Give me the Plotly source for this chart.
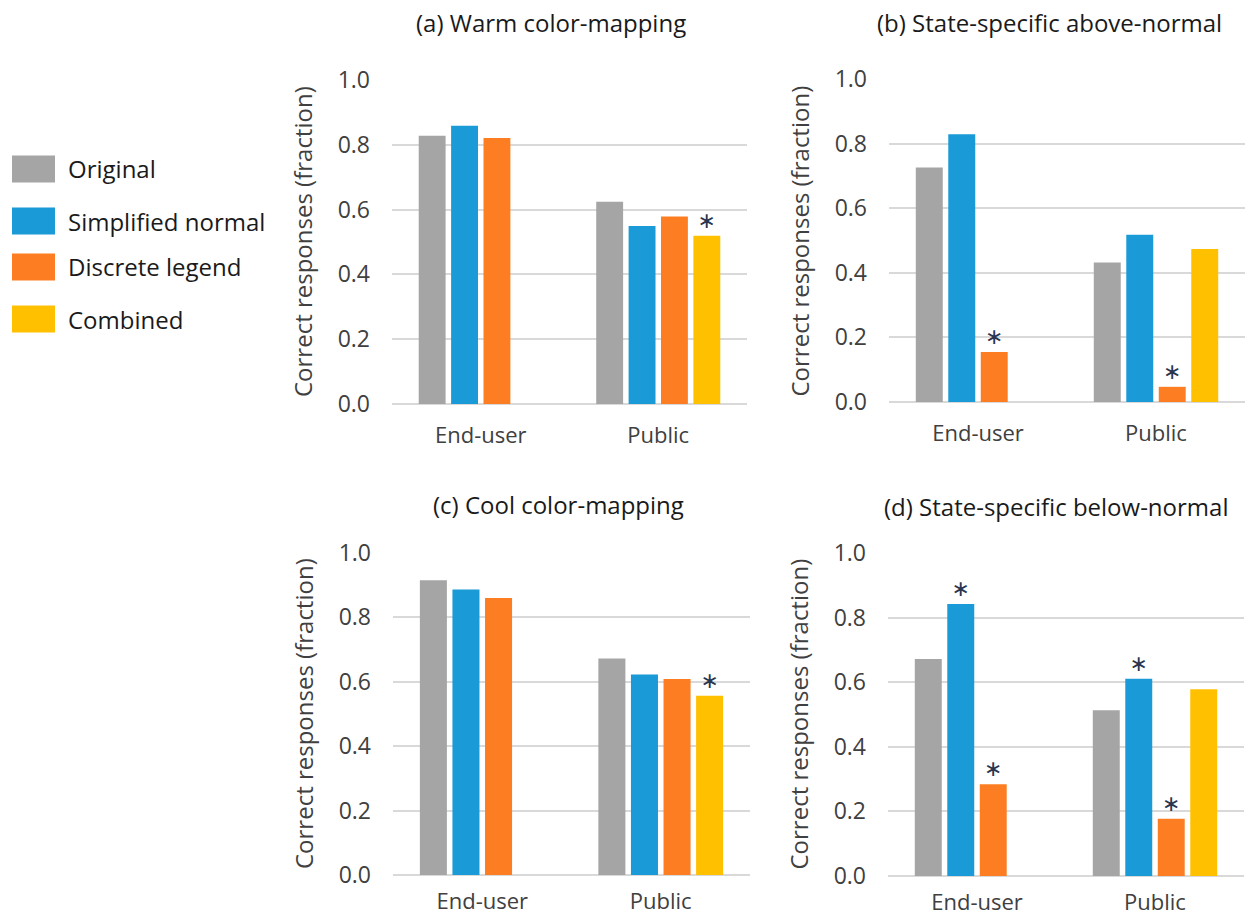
import plotly.graph_objects as go

# ---------------- data ----------------
categories = ["End-user", "Public"]
series_names = ["Original", "Simplified normal", "Discrete legend", "Combined"]
panel_titles = ["(a) Warm color-mapping", "(b) State-specific above-normal",
                "(c) Cool color-mapping", "(d) State-specific below-normal"]

# values per panel: [End-user, Public]
warm_original = [0.828, 0.624]
warm_simplified = [0.859, 0.549]
warm_discrete = [0.821, 0.579]
warm_combined = [None, 0.519]

above_original = [0.726, 0.432]
above_simplified = [0.829, 0.518]
above_discrete = [0.155, 0.047]
above_combined = [None, 0.474]

cool_original = [0.915, 0.672]
cool_simplified = [0.887, 0.623]
cool_discrete = [0.860, 0.609]
cool_combined = [None, 0.557]

below_original = [0.672, 0.513]
below_simplified = [0.842, 0.611]
below_discrete = [0.284, 0.177]
below_combined = [None, 0.578]

# significance markers (True -> asterisk)
warm_sig = [[False, False], [False, False], [False, False], [False, True]]
above_sig = [[False, False], [False, False], [True, True], [False, False]]
cool_sig = [[False, False], [False, False], [False, False], [False, True]]
below_sig = [[False, False], [True, True], [True, True], [False, False]]

y_ticks = [0.0, 0.2, 0.4, 0.6, 0.8, 1.0]
y_tick_labels = ["0.0", "0.2", "0.4", "0.6", "0.8", "1.0"]
y_title = "Correct responses (fraction)"

# ---------------- style ----------------
colors = ["#a5a5a5", "#1a9ad6", "#fd7e22", "#ffc000"]
FONT = "Open Sans"
W, H = 1246, 919

panels = [
    ([warm_original, warm_simplified, warm_discrete, warm_combined], warm_sig),
    ([above_original, above_simplified, above_discrete, above_combined], above_sig),
    ([cool_original, cool_simplified, cool_discrete, cool_combined], cool_sig),
    ([below_original, below_simplified, below_discrete, below_combined], below_sig),
]

# pixel boxes (x0, x1, ytop, ybottom) for each plot area
boxes = [(392, 747, 80, 404), (889, 1245, 79, 402), (393, 750, 553, 875), (888, 1244, 553, 876)]
title_pos = [(551, 22), (1049, 23), (558, 504), (1056, 506)]
ytitle_x = [302, 799, 303, 798]
xlabel_standoff = [16, 16, 11, 11]

fig = go.Figure()
layout = dict()
annotations = []
shapes = []

for i, ((vals, sig), (x0, x1, yt, yb)) in enumerate(zip(panels, boxes)):
    xa = "x" if i == 0 else f"x{i+1}"
    ya = "y" if i == 0 else f"y{i+1}"
    for s, (name, v, c) in enumerate(zip(series_names, vals, colors)):
        fig.add_trace(go.Bar(
            x=categories, y=v, name=name, marker=dict(color=c, line=dict(width=0)),
            xaxis=xa, yaxis=ya, showlegend=False,
            text=["\u2217" if flag else "" for flag in sig[s]],
            textposition="outside", cliponaxis=False,
            textfont=dict(family="DejaVu Sans", size=22, color="#2a3550"),
            offsetgroup=str(s),
        ))
    xkey = "xaxis" if i == 0 else f"xaxis{i+1}"
    ykey = "yaxis" if i == 0 else f"yaxis{i+1}"
    layout[xkey] = dict(domain=[x0 / W, x1 / W], anchor=ya, showgrid=False, showline=False,
                        zeroline=False, ticks="", tickfont=dict(family=FONT, size=22, color="#404040"),
                        ticklabelstandoff=xlabel_standoff[i], automargin=False)
    layout[ykey] = dict(domain=[1 - yb / H, 1 - yt / H], anchor=xa, range=[0, 1.0],
                        tickvals=y_ticks, ticktext=y_tick_labels,
                        showgrid=True, gridcolor="#d9d9d9", gridwidth=2,
                        zeroline=True, zerolinecolor="#d9d9d9", zerolinewidth=2,
                        showline=False, ticks="", ticklabelstandoff=21,
                        tickfont=dict(family=FONT, size=23, color="#404040"), automargin=False)
    tx, ty = title_pos[i]
    annotations.append(dict(text=panel_titles[i], x=tx / W, y=1 - ty / H, xref="paper", yref="paper",
                            xanchor="center", yanchor="middle", showarrow=False,
                            font=dict(family=FONT, size=24, color="#1a1a1a")))
    annotations.append(dict(text=y_title, x=ytitle_x[i] / W, y=1 - (yt + yb) / 2 / H,
                            xref="paper", yref="paper", textangle=-90,
                            xanchor="center", yanchor="middle", showarrow=False,
                            font=dict(family=FONT, size=24, color="#404040")))

# manual legend with large swatches
legend_rows = [169, 221, 267, 319]
for name, c, yc in zip(series_names, colors, legend_rows):
    shapes.append(dict(type="rect", xref="paper", yref="paper",
                       x0=12 / W, x1=55 / W, y0=1 - (yc + 13.5) / H, y1=1 - (yc - 13.5) / H,
                       fillcolor=c, line=dict(width=0)))
    annotations.append(dict(text=name, x=66 / W, y=1 - yc / H, xref="paper", yref="paper",
                            xanchor="left", yanchor="middle", showarrow=False,
                            font=dict(family=FONT, size=24, color="#1a1a1a")))

fig.update_layout(
    **layout,
    width=W, height=H,
    margin=dict(l=0, r=0, t=0, b=0),
    template="none",
    paper_bgcolor="white", plot_bgcolor="white",
    barmode="group", bargap=0.27, bargroupgap=0.17,
    annotations=annotations, shapes=shapes,
    showlegend=False,
    uniformtext=dict(minsize=8),
)

fig.write_html("out.html", config={"displayModeBar": False},
               post_script="document.body.style.margin='0';")
